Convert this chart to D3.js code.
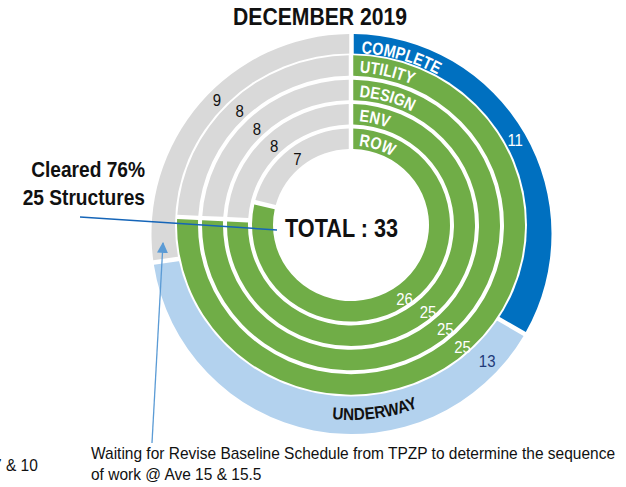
<!DOCTYPE html>
<html>
<head>
<meta charset="utf-8">
<script src="https://cdn.jsdelivr.net/npm/d3@7/dist/d3.min.js"></script>
<style>
  html, body { margin: 0; padding: 0; background: #fff; }
  svg { display: block; }
</style>
</head>
<body>
<svg id="chart" width="626" height="487"></svg>
<script>
// ---------------- data ----------------
const title = "DECEMBER 2019";
const total = 33;
const ringNames = ["COMPLETE", "UTILITY", "DESIGN", "ENV", "ROW"];
// outer ring: complete, underway, remaining
const outerParts = ["Complete", "Underway", "Remaining"];
const outerValues = [11, 13, 9];
// inner rings (UTILITY, DESIGN, ENV, ROW): cleared vs remaining
const innerRings = ["UTILITY", "DESIGN", "ENV", "ROW"];
const clearedValues = [25, 25, 25, 26];
const remainingValues = [8, 8, 8, 7];
const clearedNote = ["Cleared 76%", "25 Structures"];
const totalLabel = "TOTAL : " + total;
const noteLines = ["Waiting for Revise Baseline Schedule from TPZP to determine the sequence", "of work @ Ave 15 & 15.5"];
const cutNote = "7 & 10";

// ---------------- styles ----------------
const C = {
  green: "#70ad47", gray: "#d9d9d9", blue: "#0070c0",
  lightBlue: "#b3d2ee", navy: "#1f3a78", line: "#1565b8", arrow: "#5b9bd5"
};
const FONT = "'Liberation Sans', Arial, sans-serif";
const NARROW = 0.82;

// condense a text (or textPath) element to mimic a narrow typeface
function condense(sel, factor) {
  sel.each(function () {
    const len = this.getComputedTextLength();
    d3.select(this).attr("textLength", len * factor).attr("lengthAdjust", "spacingAndGlyphs");
  });
}

const svg = d3.select("#chart");
const defs = svg.append("defs");
defs.append("marker")
  .attr("id", "arrowHead").attr("viewBox", "0 0 10 10")
  .attr("refX", 9).attr("refY", 5)
  .attr("markerWidth", 11).attr("markerHeight", 11)
  .attr("markerUnits", "userSpaceOnUse")
  .attr("orient", "auto")
  .append("path").attr("d", "M0,0 L10,5 L0,10 Z").attr("fill", C.arrow);

const pie = d3.pie().sort(null).value(d => d);

// point on circle, angle measured clockwise from 12 o'clock
function pt(r, a) { return [r * Math.sin(a), -r * Math.cos(a)]; }
function arcPath(r, a0, a1, sweep) {
  const p0 = pt(r, a0), p1 = pt(r, a1);
  const large = Math.abs(a1 - a0) > Math.PI ? 1 : 0;
  return `M${p0[0]},${p0[1]} A${r},${r} 0 ${large} ${sweep} ${p1[0]},${p1[1]}`;
}

// ---------------- outer ring (COMPLETE / UNDERWAY) ----------------
const outerC = [351.5, 234];
const innerC = [351, 225];
const squash = 0.975;
const outerR = 200, outerBandIn = 178;

const gOuter = svg.append("g").attr("transform", `translate(${outerC[0]},${outerC[1]})`);
const outerColor = d3.scaleOrdinal().domain(outerParts).range([C.blue, C.lightBlue, C.gray]);
const outerArcs = pie(outerValues);
const outerArc = d3.arc().innerRadius(140).outerRadius(outerR).padAngle(0.045).padRadius(100);
gOuter.selectAll("path.seg").data(outerArcs).join("path")
  .attr("class", "seg")
  .attr("d", outerArc)
  .attr("fill", (d, i) => outerColor(outerParts[i]));

// white disc that forms the inner edge of the outer band
svg.append("ellipse")
  .attr("cx", innerC[0]).attr("cy", innerC[1])
  .attr("rx", 176).attr("ry", 176 * squash)
  .attr("fill", "#fff");

// ---------------- inner rings ----------------
const gInner = svg.append("g").attr("transform", `translate(${innerC[0]},${innerC[1]}) scale(1,${squash})`);
const rScale = d3.scaleLinear().domain([0, innerRings.length - 1]).range([153, 78]);
const thick = 21;
const innerColor = d3.scaleOrdinal().domain(["cleared", "remaining"]).range([C.green, C.gray]);

innerRings.forEach((name, i) => {
  const r0 = rScale(i), r1 = r0 + thick;
  const arcs = pie([clearedValues[i], remainingValues[i]]);
  const arc = d3.arc().innerRadius(r0).outerRadius(r1).padAngle(0.045).padRadius(100);
  const g = gInner.append("g");
  g.selectAll("path").data(arcs).join("path")
    .attr("d", arc)
    .attr("fill", (d, j) => innerColor(j === 0 ? "cleared" : "remaining"));
  // value labels (cleared labels sit a little lower, as in the source)
  const labArc = d3.arc().innerRadius(r0 - 2).outerRadius(r1 - 2);
  const vals = g.selectAll("text.val").data(arcs).join("text")
    .attr("class", "val")
    .attr("transform", (d, j) => {
      const c = labArc.centroid(d);
      const shift = j === 0 ? 8 : 0;
      return `translate(${c[0]},${c[1] + shift}) scale(1,${1 / squash})`;
    })
    .attr("text-anchor", "middle").attr("dy", "0.36em")
    .attr("font-family", FONT).attr("font-size", 17)
    .attr("fill", (d, j) => j === 0 ? "#fff" : "#111")
    .text(d => d.data);
  condense(vals, 0.88);
  // curved ring name
  const rb = r0 + 3.5;
  const pid = "ringPath" + i;
  defs.append("path").attr("id", pid).attr("d", arcPath(rb, 0.01, 1.6, 1));
  const tp = gInner.append("text")
    .attr("font-family", FONT).attr("font-size", 17.5).attr("font-weight", "bold")
    .attr("fill", "#fff")
    .append("textPath").attr("href", "#" + pid).attr("startOffset", 7)
    .text(name);
  condense(tp, NARROW);
});

// outer ring labels
const outerLabArc = d3.arc().innerRadius(outerBandIn).outerRadius(outerR);
const outerVals = gOuter.selectAll("text.val").data(outerArcs).join("text")
  .attr("class", "val")
  .attr("transform", (d, i) => {
    let c = outerLabArc.centroid(d);
    if (i === 1) c = pt(186, d.startAngle + 0.23);      // underway label near its start
    if (i === 2) c = pt(190, (d.startAngle + d.endAngle) / 2 + 0.07);
    return `translate(${c[0]},${c[1]})`;
  })
  .attr("text-anchor", "middle").attr("dy", "0.36em")
  .attr("font-family", FONT).attr("font-size", 17)
  .attr("fill", (d, i) => i === 0 ? "#fff" : (i === 1 ? C.navy : "#111"))
  .text(d => d.data);
condense(outerVals, 0.88);

defs.append("path").attr("id", "completePath").attr("d", arcPath(181, 0.01, 1.7, 1));
const cp = gOuter.append("text")
  .attr("font-family", FONT).attr("font-size", 17.5).attr("font-weight", "bold").attr("fill", "#fff")
  .append("textPath").attr("href", "#completePath").attr("startOffset", 8)
  .text(ringNames[0]);
condense(cp, NARROW);

const uwMid = 172.5 * Math.PI / 180;
defs.append("path").attr("id", "underwayPath").attr("d", arcPath(186, uwMid + 0.5, uwMid - 0.5, 0));
const uwt = gOuter.append("text")
  .attr("font-family", FONT).attr("font-size", 17).attr("font-weight", "bold").attr("fill", "#111")
  .append("textPath").attr("href", "#underwayPath").attr("startOffset", "50%")
  .attr("text-anchor", "middle")
  .text("UNDERWAY");
condense(uwt, 0.9);

// ---------------- texts & annotations ----------------
svg.append("text")
  .attr("x", 233).attr("y", 25)
  .attr("font-family", FONT).attr("font-size", 23).attr("font-weight", "bold").attr("fill", "#111")
  .attr("textLength", 174).attr("lengthAdjust", "spacingAndGlyphs")
  .text(title);

svg.append("text")
  .attr("x", 285).attr("y", 237)
  .attr("font-family", FONT).attr("font-size", 25).attr("font-weight", "bold").attr("fill", "#111")
  .attr("textLength", 113).attr("lengthAdjust", "spacingAndGlyphs")
  .text(totalLabel);

const notes = svg.selectAll("text.note").data(clearedNote).join("text")
  .attr("class", "note")
  .attr("x", 145).attr("y", (d, i) => 177 + i * 28)
  .attr("text-anchor", "end")
  .attr("font-family", FONT).attr("font-size", 22).attr("font-weight", "bold").attr("fill", "#111")
  .text(d => d);
condense(notes, 0.87);

svg.append("line")
  .attr("x1", 80).attr("y1", 217).attr("x2", 277).attr("y2", 230)
  .attr("stroke", C.line).attr("stroke-width", 1.5);

svg.append("line")
  .attr("x1", 152).attr("y1", 443).attr("x2", 163).attr("y2", 243)
  .attr("stroke", C.arrow).attr("stroke-width", 1.3)
  .attr("marker-end", "url(#arrowHead)");

const waits = svg.selectAll("text.wait").data(noteLines).join("text")
  .attr("class", "wait")
  .attr("x", 91).attr("y", (d, i) => 459 + i * 21)
  .attr("font-family", FONT).attr("font-size", 17).attr("fill", "#111")
  .text(d => d);
const wf = 524 / waits.node().getComputedTextLength();
condense(waits, wf);

const cut = svg.append("text")
  .attr("x", -7).attr("y", 471)
  .attr("font-family", FONT).attr("font-size", 17).attr("fill", "#111")
  .text(cutNote);
condense(cut, wf);
</script>
</body>
</html>
